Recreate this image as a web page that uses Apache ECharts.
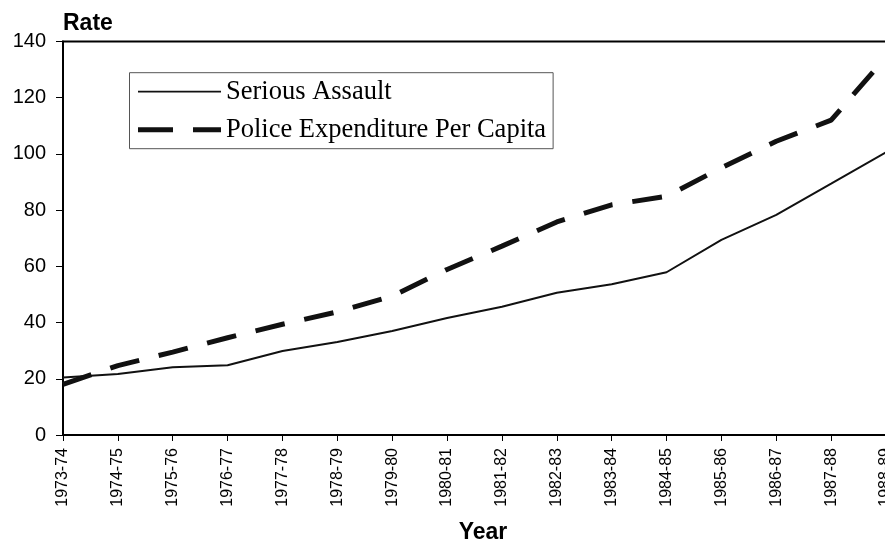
<!DOCTYPE html>
<html>
<head>
<meta charset="utf-8">
<script src="https://cdn.jsdelivr.net/npm/echarts@6/dist/echarts.min.js"></script>
<style>html,body{margin:0;padding:0;background:#fff;}#c{width:885px;height:544px;}</style>
</head>
<body>
<div id="c"></div>
<script>
var years = ['1973-74','1974-75','1975-76','1976-77','1977-78','1978-79','1979-80','1980-81','1981-82','1982-83','1983-84','1984-85','1985-86','1986-87','1987-88','1988-89'];
var seriousAssault = [20.5, 21.7, 24.1, 24.8, 29.9, 33.1, 37.0, 41.6, 45.6, 50.6, 53.6, 57.9, 69.4, 78.3, 89.4, 100.6];
var policeExpenditure = [18.0, 24.7, 29.5, 34.6, 39.4, 43.8, 49.4, 58.9, 67.2, 75.8, 81.9, 84.9, 95.1, 104.5, 112.0, 134.5];
var yTicks = [0, 20, 40, 60, 80, 100, 120, 140];
var seriesNames = ['Serious Assault', 'Police Expenditure Per Capita'];

var chart = echarts.init(document.getElementById('c'));
chart.setOption({
  animation: false,
  backgroundColor: '#fff',
  grid: {left: 63, width: 823, top: 41.5, bottom: 109, show: true, borderColor: '#000', borderWidth: 2,
         backgroundColor: 'transparent', containLabel: false, outerBoundsMode: 'none'},
  legend: {
    orient: 'vertical', left: 129.5, top: 72.7,
    padding: [4, 7, 4, 6],
    borderColor: '#555', borderWidth: 1, backgroundColor: '#fff',
    itemWidth: 83, itemHeight: 14, itemGap: 8,
    textStyle: {fontFamily: 'Liberation Serif', fontSize: 26.5, color: '#000', lineHeight: 30},
    data: [
      {name: seriesNames[0], itemStyle: {opacity: 0}, lineStyle: {color: '#111', width: 1.8, type: 'solid'}},
      {name: seriesNames[1], itemStyle: {opacity: 0}, lineStyle: {color: '#111', width: 5, type: [35, 20], cap: 'butt'}}
    ]
  },
  xAxis: {
    type: 'category', data: years, boundaryGap: false,
    name: 'Year', nameLocation: 'middle', nameGap: 86,
    nameTextStyle: {fontFamily: 'Liberation Sans', fontWeight: 'bold', fontSize: 23, color: '#000', padding: [0, 0, 0, 17]},
    axisLine: {lineStyle: {color: '#000', width: 2}},
    axisTick: {show: true, alignWithLabel: true, length: 6, lineStyle: {color: '#000', width: 1}},
    axisLabel: {rotate: 90, fontFamily: 'Liberation Sans', fontSize: 16, color: '#000', margin: 13, interval: 0},
    splitLine: {show: false}
  },
  yAxis: {
    type: 'value', min: yTicks[0], max: yTicks[yTicks.length - 1], interval: 20,
    name: 'Rate', nameLocation: 'end', nameGap: 18,
    nameTextStyle: {fontFamily: 'Liberation Sans', fontWeight: 'bold', fontSize: 23, color: '#000', align: 'left', verticalAlign: 'middle'},
    axisLine: {show: true, lineStyle: {color: '#000', width: 2}},
    axisTick: {show: true, length: 7, lineStyle: {color: '#000', width: 1}},
    axisLabel: {fontFamily: 'Liberation Sans', fontSize: 20, color: '#000', margin: 17},
    splitLine: {show: false}
  },
  series: [
    {
      name: seriesNames[0], type: 'line', data: seriousAssault,
      showSymbol: false, symbol: 'none',
      lineStyle: {color: '#111', width: 2},
      itemStyle: {color: '#111'}
    },
    {
      name: seriesNames[1], type: 'line', data: policeExpenditure,
      showSymbol: false, symbol: 'none',
      lineStyle: {color: '#111', width: 5, type: [30, 20], cap: 'butt'},
      itemStyle: {color: '#111'}
    }
  ]
});
</script>
</body>
</html>
